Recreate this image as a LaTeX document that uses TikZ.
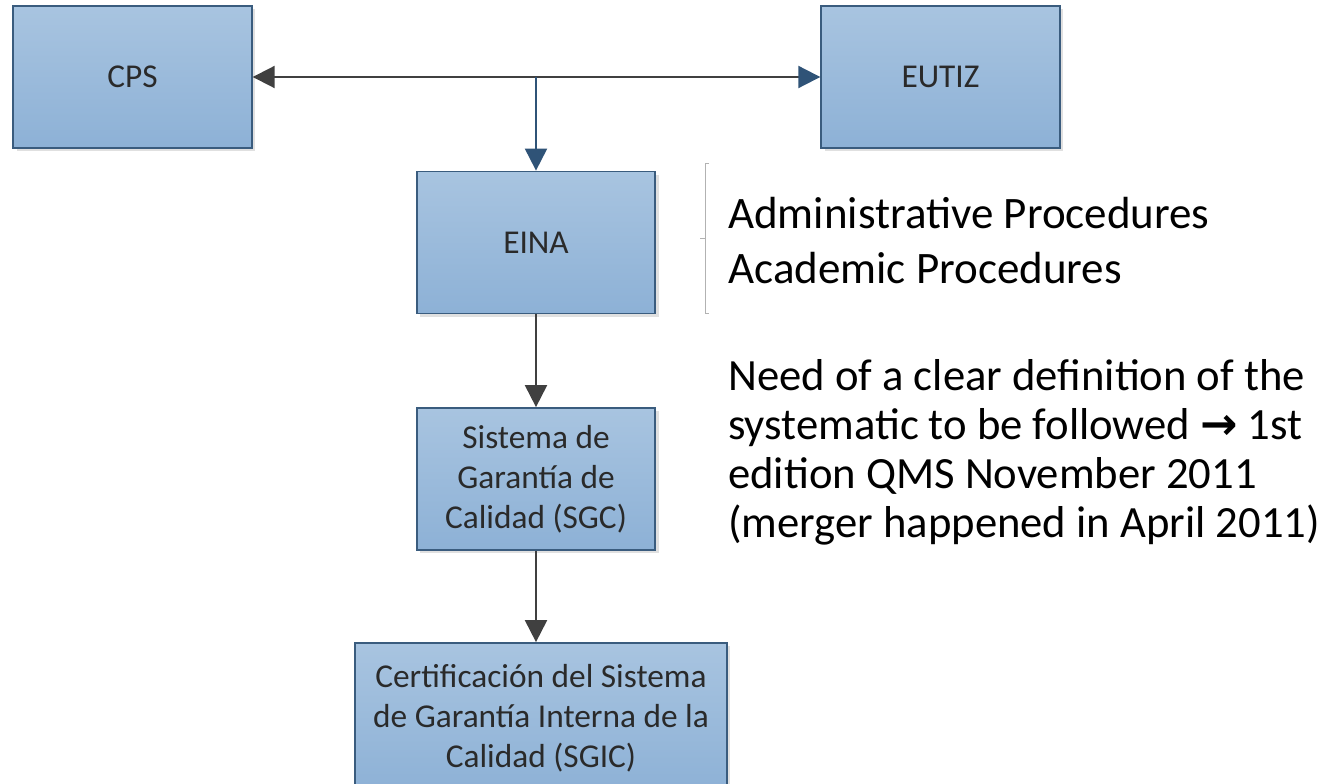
\documentclass[tikz,border=0pt]{standalone}
\usepackage{fontspec}
\setmainfont{Carlito}
\newfontfamily\arrowfont{DejaVu Sans}
\usetikzlibrary{arrows.meta,shadows}
\definecolor{boxtop}{HTML}{A8C4E0}
\definecolor{boxbot}{HTML}{8DB1D6}
\definecolor{boxline}{HTML}{3A5C7E}
\definecolor{linkgray}{HTML}{404040}
\definecolor{linkblue}{HTML}{2F5377}
\definecolor{boxtext}{HTML}{2A2A2A}
\begin{document}
\begin{tikzpicture}[x=0.75pt, y=-0.75pt,
    unit/.style={draw=boxline, line width=1.3pt, top color=boxtop, bottom color=boxbot,
      minimum width=179pt, minimum height=106.5pt, inner sep=0pt, align=center,
      text=boxtext, font=\fontsize{25}{30}\selectfont,
      drop shadow={shadow xshift=2.5pt, shadow yshift=-2.5pt, fill=black, opacity=0.12}},
    link/.style={draw=linkgray, line width=1.5pt, -{Triangle[length=16.5pt, width=16.5pt]}},
    note/.style={anchor=base west, inner sep=0pt, align=left}]
  \useasboundingbox (0,0) rectangle (1334,784);
  \node[unit] (cps) at (132.5,77) {CPS};
  \node[unit] (eutiz) at (940.5,77) {EUTIZ};
  \node[unit] (eina) at (536,242.5) {EINA};
  \node[unit] (sgc) at (536,479) {Sistema de\\Garantía de\\Calidad (SGC)};
  \node[unit, minimum width=279pt, minimum height=112.5pt] (sgic) at (541,718)
    {Certificación del Sistema\\de Garantía Interna de la\\Calidad (SGIC)};
  \coordinate (split) at (eina.north |- cps.east);
  \draw[link] (split) -- (cps);
  \draw[link, -{Triangle[length=16.5pt, width=16.5pt, color=linkblue]}] (split) -- (eutiz);
  \draw[link, draw=linkblue] (split) -- (eina);
  \draw[link] (eina) -- (sgc);
  \draw[link] (sgc) -- (sgc.south |- sgic.north);
  \draw[gray!60, line width=0.6pt] (709,163) -- (705,163) -- (705,313) -- (709,313)
    (705,238) -- (700,238);
  \node[note, font=\fontsize{33.75}{41.25}\selectfont] (proc) at (728,283)
    {Administrative Procedures\\Academic Procedures};
  \node[note, font=\fontsize{33.5}{36.75}\selectfont] (need) at (728,537)
    {Need of a clear definition of the\\systematic to be followed {\arrowfont\bfseries →} 1st\\edition QMS November 2011\\(merger happened in April 2011)};
\end{tikzpicture}
\end{document}
